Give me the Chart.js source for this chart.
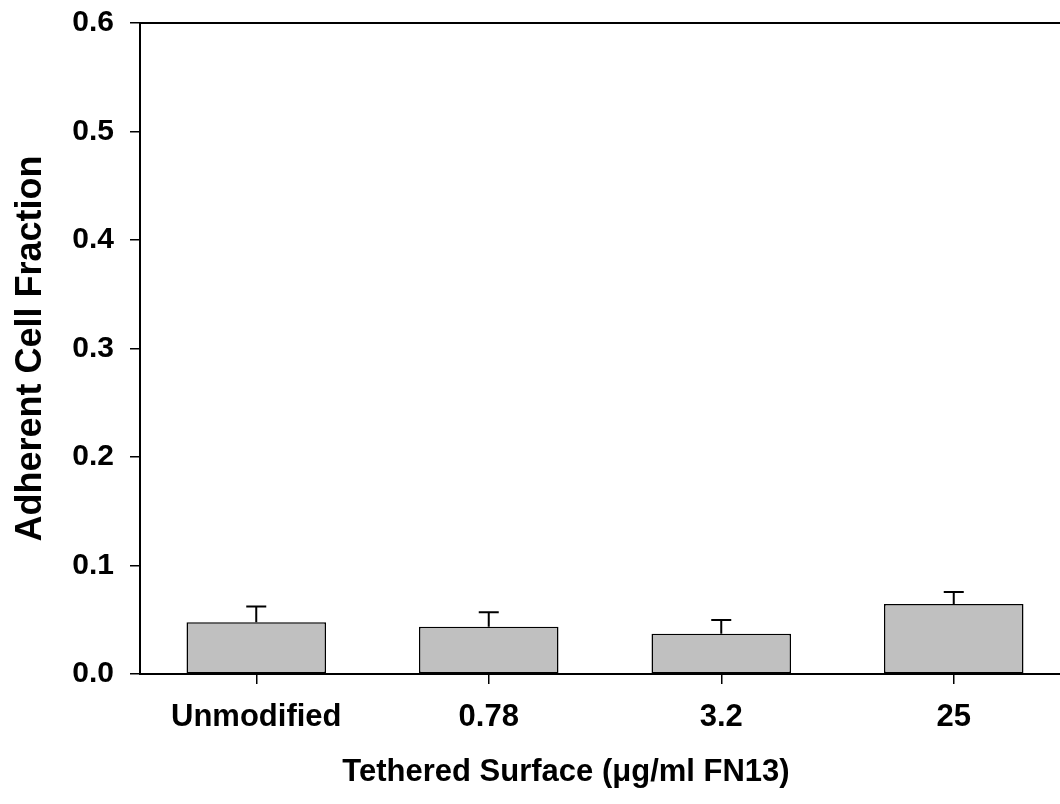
<!DOCTYPE html>
<html>
<head>
<meta charset="utf-8">
<script src="https://cdn.jsdelivr.net/npm/chart.js@4.4.0/dist/chart.umd.min.js"></script>
<style>
  html, body { margin: 0; padding: 0; overflow: hidden; background: #fff; }
  canvas { display: block; }
</style>
</head>
<body>
<canvas id="adhesionChart" width="1070" height="804"></canvas>
<script>
// Datos
const categories = ['Unmodified', '0.78', '3.2', '25'];
const cellFraction = [0.0476, 0.0436, 0.0371, 0.0645];
const cellFractionErr = [0.0147, 0.0132, 0.0127, 0.0111];
const yTicks = [0, 0.1, 0.2, 0.3, 0.4, 0.5, 0.6];
const xTitle = 'Tethered Surface (\u03bcg/ml FN13)';
const yTitle = 'Adherent Cell Fraction';

Chart.defaults.font.family = '"Liberation Sans", Arial, sans-serif';
Chart.defaults.font.weight = 'bold';
Chart.defaults.color = '#000';

// Barras de error (solo hacia arriba, con tope)
const errorBars = {
  id: 'errorBars',
  afterDatasetsDraw(chart) {
    const { ctx, scales: { x, y } } = chart;
    ctx.save();
    ctx.strokeStyle = '#000';
    ctx.lineWidth = 2;
    cellFraction.forEach((v, i) => {
      const px = x.getPixelForValue(i);
      const y0 = y.getPixelForValue(v);
      const y1 = y.getPixelForValue(v + cellFractionErr[i]);
      ctx.beginPath();
      ctx.moveTo(px, y0);
      ctx.lineTo(px, y1);
      ctx.moveTo(px - 10, y1);
      ctx.lineTo(px + 10, y1);
      ctx.stroke();
    });
    ctx.restore();
  }
};

// Título del eje X (en la figura no está centrado sobre el área)
const xAxisTitle = {
  id: 'xAxisTitle',
  afterDraw(chart) {
    const { ctx } = chart;
    ctx.save();
    ctx.font = 'bold 31px "Liberation Sans", Arial, sans-serif';
    ctx.fillStyle = '#000';
    ctx.textAlign = 'center';
    ctx.textBaseline = 'middle';
    ctx.fillText(xTitle, 566, 772);
    ctx.restore();
  }
};

const noEdgePadding = s => {
  s.paddingTop = 0; s.paddingBottom = 0; s.paddingLeft = 0; s.paddingRight = 0;
};

new Chart(document.getElementById('adhesionChart'), {
  type: 'bar',
  data: {
    labels: categories,
    datasets: [{
      data: cellFraction,
      backgroundColor: '#c0c0c0',
      borderColor: '#000',
      borderWidth: 1.5,
      borderSkipped: false,
      categoryPercentage: 1,
      barPercentage: 0.6
    }]
  },
  options: {
    responsive: false,
    animation: false,
    layout: { padding: { top: 23, left: 0, right: 0, bottom: 0 } },
    plugins: { legend: { display: false }, tooltip: { enabled: false } },
    scales: {
      x: {
        position: 'bottom',
        grid: { offset: false, drawOnChartArea: false, tickLength: 10, color: '#000', lineWidth: 1.5 },
        border: { color: '#000', width: 2 },
        ticks: { font: { size: 31, weight: 'bold' }, padding: 15, maxRotation: 0 },
        afterFit: s => { s.height = 130; noEdgePadding(s); }
      },
      x2: {
        position: 'top',
        type: 'category',
        grid: { display: false },
        border: { display: true, color: '#000', width: 2 },
        ticks: { display: false },
        afterFit: s => { s.height = 0; noEdgePadding(s); }
      },
      y: {
        min: 0,
        max: 0.6,
        afterBuildTicks: s => { s.ticks = yTicks.map(v => ({ value: v })); },
        grid: { drawOnChartArea: false, tickLength: 10, color: '#000', lineWidth: 1.5 },
        border: { color: '#000', width: 2 },
        ticks: { font: { size: 30, weight: 'bold' }, padding: 16, callback: v => v.toFixed(1) },
        title: { display: true, text: yTitle, font: { size: 36, weight: 'bold' }, padding: { top: 9, bottom: 0 } },
        afterFit: s => { s.width = 140; noEdgePadding(s); }
      }
    }
  },
  plugins: [errorBars, xAxisTitle]
});
</script>
</body>
</html>
